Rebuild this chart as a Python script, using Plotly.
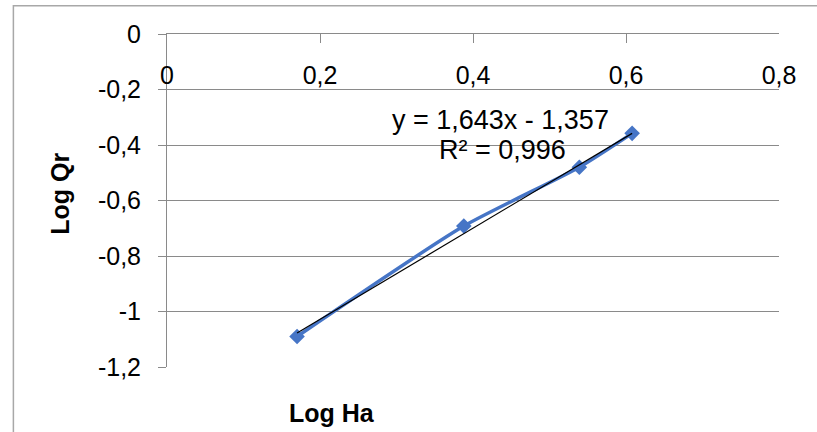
import numpy as np
import plotly.graph_objects as go

# Data
log_ha = [0.17, 0.388, 0.539, 0.608]
log_qr = [-1.09, -0.692, -0.48, -0.358]
slope = 1.643
intercept = -1.357
eq_text = "y = 1,643x - 1,357"
r2_text = "R² = 0,996"
x_tickvals = [0, 0.2, 0.4, 0.6, 0.8]
x_ticktext = ["0", "0,2", "0,4", "0,6", "0,8"]
y_tickvals = [0, -0.2, -0.4, -0.6, -0.8, -1.0, -1.2]
y_ticktext = ["0", "-0,2", "-0,4", "-0,6", "-0,8", "-1", "-1,2"]

FONT = "Liberation Sans, Arial, sans-serif"
GRAY = "#8a8a8a"

trend_x = np.array([min(log_ha), max(log_ha)])
trend_y = slope * trend_x + intercept

fig = go.Figure()
fig.add_trace(go.Scatter(
    x=log_ha, y=log_qr, mode="lines+markers",
    line=dict(color="#4675c6", width=3.5, shape="spline", smoothing=0.6),
    marker=dict(symbol="diamond", size=12, color="#4675c6"),
    showlegend=False, hoverinfo="skip"))
fig.add_trace(go.Scatter(
    x=trend_x, y=trend_y, mode="lines",
    line=dict(color="black", width=1.2),
    showlegend=False, hoverinfo="skip"))
# invisible trace to carry the label-only x axis
fig.add_trace(go.Scatter(
    x=log_ha, y=log_qr, xaxis="x2", mode="markers",
    marker=dict(opacity=0), showlegend=False, hoverinfo="skip"))

fig.update_layout(
    width=817, height=432,
    margin=dict(l=167, r=38, t=34, b=65),
    paper_bgcolor="white", plot_bgcolor="white",
    font=dict(family=FONT, size=25, color="black"),
    xaxis=dict(
        range=[0, 0.8], side="top", showline=True, linecolor=GRAY, linewidth=1,
        ticks="inside", ticklen=9, tickcolor=GRAY, tickvals=x_tickvals,
        showticklabels=False, showgrid=False, zeroline=False,
    ),
    xaxis2=dict(
        range=[0, 0.8], overlaying="x", anchor="free", position=0.928, side="bottom",
        showline=False, ticks="", tickvals=x_tickvals, ticktext=x_ticktext,
        showgrid=False, zeroline=False, tickfont=dict(size=25, color="black"),
    ),
    yaxis=dict(
        range=[-1.2, 0], showline=True, linecolor=GRAY, linewidth=1,
        ticks="outside", ticklen=8, tickcolor=GRAY,
        tickvals=y_tickvals, ticktext=y_ticktext,
        showgrid=True, gridcolor=GRAY, gridwidth=1, zeroline=False,
        ticklabelstandoff=12, tickfont=dict(size=25, color="black"),
    ),
    annotations=[
        dict(x=0.436, y=-0.311, xref="x", yref="y", text=eq_text, showarrow=False,
             xanchor="center", yanchor="middle",
             font=dict(size=27, color="black", family=FONT)),
        dict(x=0.438, y=-0.419, xref="x", yref="y", text=r2_text, showarrow=False,
             xanchor="center", yanchor="middle",
             font=dict(size=27, color="black", family=FONT)),
        dict(x=0.27, y=-0.137, xref="paper", yref="paper", text="<b>Log Ha</b>",
             xanchor="center", yanchor="middle",
             showarrow=False, font=dict(size=25, color="black", family=FONT)),
        dict(x=-0.174, y=0.519, xref="paper", yref="paper", text="<b>Log Qr</b>",
             xanchor="center", yanchor="middle",
             showarrow=False, textangle=-90, font=dict(size=25, color="black", family=FONT)),
    ],
    shapes=[
        dict(type="rect", xref="paper", yref="paper", x0=-0.251, y0=-0.4, x1=1.2, y1=1.085,
             line=dict(color="#a8a8a8", width=1.5), fillcolor="rgba(0,0,0,0)", layer="below"),
    ],
)

fig.write_html("out.html")
